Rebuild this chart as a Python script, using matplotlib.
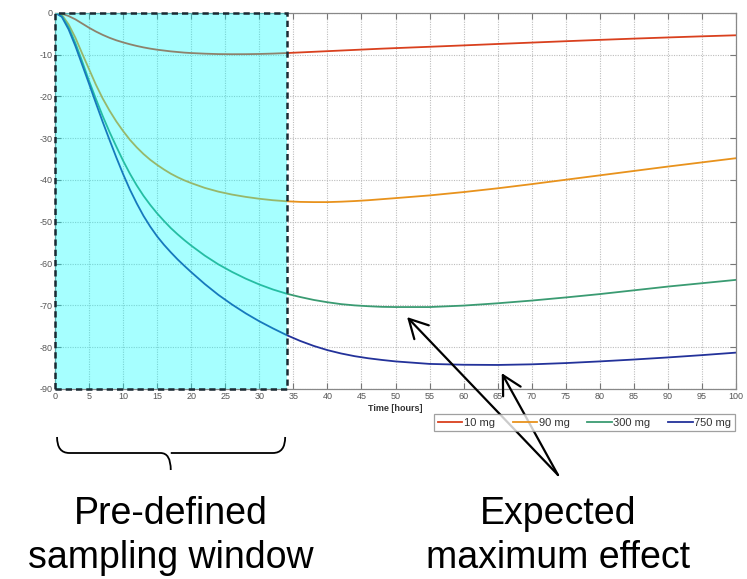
import matplotlib
matplotlib.use("Agg")
import matplotlib.pyplot as plt
import matplotlib.transforms as mtransforms
from matplotlib.path import Path
from matplotlib.patches import PathPatch, Rectangle

plt.rcParams['font.family'] = ['Liberation Sans', 'DejaVu Sans']
plt.rcParams['axes.unicode_minus'] = False

# ---------------- data ----------------
time_h = [0, 1, 2, 3, 4, 5, 6, 7, 8, 9, 10, 11, 12, 13, 14, 15, 16, 17, 18, 19, 20,
          22, 24, 26, 28, 30, 32, 34, 36, 38, 40, 42, 44, 46, 48, 50,
          55, 60, 65, 70, 75, 80, 85, 90, 95, 100]
dose_10 = [0, -0.2, -0.8, -1.6, -2.6, -3.6, -4.5, -5.3, -6.0, -6.6, -7.1, -7.55, -7.95,
           -8.3, -8.6, -8.85, -9.05, -9.25, -9.4, -9.55, -9.65,
           -9.8, -9.9, -9.93, -9.92, -9.87, -9.78, -9.65, -9.5, -9.35, -9.2, -9.05, -8.9,
           -8.75, -8.6, -8.47,
           -8.15, -7.82, -7.48, -7.15, -6.82, -6.5, -6.2, -5.92, -5.65, -5.4]
dose_90 = [0, -0.5, -2.8, -6.0, -9.8, -13.5, -17.2, -20.5, -23.4, -26.0, -28.3, -30.4,
           -32.2, -33.8, -35.2, -36.4, -37.5, -38.5, -39.35, -40.1, -40.75,
           -41.9, -42.8, -43.5, -44.05, -44.5, -44.85, -45.1, -45.25, -45.3, -45.3, -45.2,
           -45.05, -44.85, -44.6, -44.35,
           -43.7, -42.9, -42.0, -41.0, -39.95, -38.9, -37.85, -36.8, -35.8, -34.8]
dose_300 = [0, -0.8, -3.5, -7.3, -11.7, -16.3, -20.6, -24.7, -28.5, -32.0, -35.4, -38.5,
            -41.3, -43.8, -46.0, -48.0, -49.8, -51.5, -53.0, -54.4, -55.7,
            -58.1, -60.2, -62.0, -63.6, -65.0, -66.2, -67.2, -68.0, -68.7, -69.25, -69.7,
            -70.0, -70.2, -70.35, -70.4,
            -70.4, -70.05, -69.5, -68.85, -68.1, -67.3, -66.4, -65.5, -64.7, -63.9]
dose_750 = [0, -1.0, -4.0, -8.0, -12.5, -17.0, -21.6, -26.1, -30.4, -34.6, -38.6, -42.3,
            -45.6, -48.6, -51.2, -53.5, -55.5, -57.3, -59.0, -60.55, -62.05,
            -64.9, -67.5, -69.8, -71.9, -73.8, -75.5, -77.1, -78.5, -79.7, -80.7, -81.5,
            -82.15, -82.65, -83.05, -83.4,
            -84.0, -84.2, -84.25, -84.1, -83.8, -83.4, -82.95, -82.45, -81.9, -81.3]
series_labels = ['10 mg', '90 mg', '300 mg', '750 mg']
series_colors = ['#D9401E', '#E8921C', '#3A9B72', '#23329A']

x_ticks = list(range(0, 101, 5))
y_ticks = list(range(-90, 1, 10))
window_start, window_end = 0, 34
green_max = (51.7, -72.8)   # arrow targets (time, effect)
blue_max = (65.6, -86.2)

# ---------------- figure ----------------
W, H = 747, 579
fig = plt.figure(figsize=(W / 100, H / 100), dpi=100)
ax = fig.add_axes([55 / W, 1 - 389 / H, (736 - 55) / W, (389 - 12.7) / H])

for vals, lab, col in zip([dose_10, dose_90, dose_300, dose_750], series_labels, series_colors):
    ax.plot(time_h, vals, color=col, lw=1.3, label=lab, zorder=2)

ax.set_xlim(0, 100)
ax.set_ylim(-90, 0)
ax.set_xticks(x_ticks)
ax.set_yticks(y_ticks)
ax.grid(True, ls=(0, (1, 1.2)), color='#bdbdbd', lw=0.8, zorder=0)
ax.set_axisbelow(True)
ax.tick_params(direction='in', length=4, width=0.8, color='#777777',
               labelcolor='#555555', labelsize=6.5, top=True, right=True, pad=2)
for s in ax.spines.values():
    s.set_color('#888888')
    s.set_linewidth(0.9)
ax.set_xlabel('Time [hours]', fontsize=6.5, fontweight='bold', color='#333333', labelpad=2)

# sampling window shading (drawn over the curves)
ax.axvspan(window_start, window_end, color='#00ffff', alpha=0.35, lw=0, zorder=3)
ax.add_patch(Rectangle((window_start, -90), window_end - window_start, 90, fill=False,
                       ec='#1a2a33', lw=1.8, ls=(0, (2.5, 1.6)), zorder=4, clip_on=False))

leg = fig.legend(loc='center', bbox_to_anchor=((432 + 737) / 2 / W, 1 - (412 + 433) / 2 / H),
                 ncol=4, fontsize=8, frameon=True, fancybox=False, edgecolor='#888888',
                 handlelength=2.2, handletextpad=0.15, columnspacing=1.6,
                 borderpad=0.35, labelspacing=0.2)
leg.get_frame().set_linewidth(0.9)
for t in leg.get_texts():
    t.set_color('#333333')

# brace under the sampling window (x in data, y in figure)
trans = mtransforms.blended_transform_factory(ax.transData, fig.transFigure)
y0 = 1 - 437 / H
y1 = 1 - 453 / H
yt = 1 - 470 / H
mid = (window_start + window_end) / 2
xl = window_start + 0.3
xr = window_end - 0.2
verts = [(xl, y0), (xl, y1), (xl + 1.8, y1),
         (mid - 1.5, y1),
         (mid, y1), (mid, yt),
         (mid, y1), (mid + 1.5, y1),
         (xr - 1.8, y1),
         (xr, y1), (xr, y0)]
codes = [Path.MOVETO, Path.CURVE3, Path.CURVE3,
         Path.LINETO,
         Path.CURVE3, Path.CURVE3,
         Path.MOVETO, Path.LINETO,
         Path.LINETO,
         Path.CURVE3, Path.CURVE3]
fig.patches.append(PathPatch(Path(verts, codes), transform=trans, fill=False,
                             ec='black', lw=1.3))

fs_big = 27
fig.text(mid, 1 - 524 / H, 'Pre-defined', transform=trans, ha='center', va='baseline',
         fontsize=fs_big, color='black')
fig.text(mid, 1 - 568 / H, 'sampling window', transform=trans, ha='center', va='baseline',
         fontsize=fs_big, color='black')

apex = (558 / W, 1 - 475 / H)
fig.text(apex[0], 1 - 524 / H, 'Expected', ha='center', va='baseline',
         fontsize=fs_big, color='black')
fig.text(apex[0], 1 - 568 / H, 'maximum effect', ha='center', va='baseline',
         fontsize=fs_big, color='black')

for target in (green_max, blue_max):
    ax.annotate('', xy=target, xycoords='data', xytext=apex, textcoords='figure fraction',
                arrowprops=dict(arrowstyle='->, head_length=0.67, head_width=0.36',
                                mutation_scale=20, lw=1.6, color='black',
                                shrinkA=0, shrinkB=0),
                annotation_clip=False, zorder=6)

fig.savefig('out.png', dpi=100)
